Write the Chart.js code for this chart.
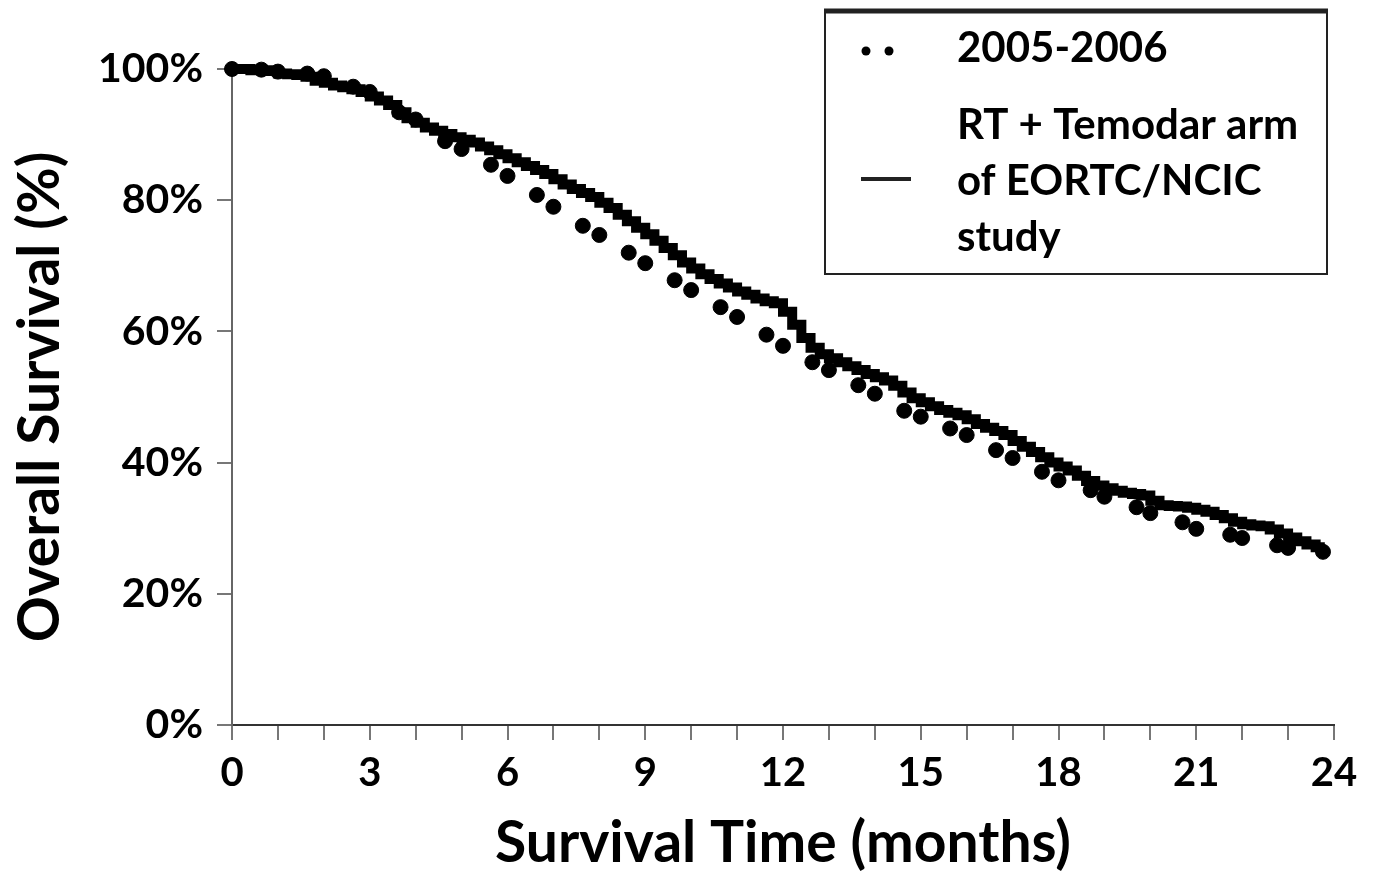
<!DOCTYPE html>
<html>
<head>
<meta charset="utf-8">
<script src="https://cdn.jsdelivr.net/npm/chart.js@4"></script>
<style>
  html, body { margin: 0; padding: 0; background: #fff; }
  #wrap { width: 1374px; height: 878px; }
</style>
</head>
<body>
<div id="wrap"><canvas id="c" width="1374" height="878"></canvas></div>
<script>
// ---- Data ----
const seriesNames = ["2005-2006", ["RT + Temodar arm", "of EORTC/NCIC", "study"]];

// 2005-2006 (dots)
const dotMonths = [0, 0.64, 1.0, 1.64, 2.0, 2.64, 3.0, 3.64, 4.0, 4.64, 5.0, 5.64, 6.0, 6.64, 7.0, 7.64, 8.0, 8.64, 9.0, 9.64, 10.0, 10.64, 11.0, 11.64, 12.0, 12.64, 13.0, 13.64, 14.0, 14.64, 15.0, 15.64, 16.0, 16.64, 17.0, 17.64, 18.0, 18.7, 19.0, 19.7, 20.0, 20.7, 21.0, 21.74, 22.0, 22.76, 23.0, 23.76];
const dotSurvival = [100, 99.9, 99.6, 99.3, 98.9, 97.3, 96.5, 93.4, 92.3, 89.0, 87.8, 85.4, 83.7, 80.8, 79.0, 76.1, 74.7, 72.0, 70.4, 67.8, 66.3, 63.7, 62.2, 59.5, 57.8, 55.3, 54.1, 51.8, 50.5, 47.9, 47.0, 45.2, 44.2, 41.9, 40.7, 38.6, 37.3, 35.8, 34.8, 33.2, 32.3, 30.9, 29.9, 29.0, 28.5, 27.4, 27.0, 26.4];

// RT + Temodar arm of EORTC/NCIC study (step line), read every 0.2 month
const lineMonths = [0.0, 0.2, 0.4, 0.6, 0.8, 1.0, 1.2, 1.4, 1.6, 1.8, 2.0, 2.2, 2.4, 2.6, 2.8, 3.0, 3.2, 3.4, 3.6, 3.8, 4.0, 4.2, 4.4, 4.6, 4.8, 5.0, 5.2, 5.4, 5.6, 5.8, 6.0, 6.2, 6.4, 6.6, 6.8, 7.0, 7.2, 7.4, 7.6, 7.8, 8.0, 8.2, 8.4, 8.6, 8.8, 9.0, 9.2, 9.4, 9.6, 9.8, 10.0, 10.2, 10.4, 10.6, 10.8, 11.0, 11.2, 11.4, 11.6, 11.8, 12.0, 12.2, 12.4, 12.6, 12.8, 13.0, 13.2, 13.4, 13.6, 13.8, 14.0, 14.2, 14.4, 14.6, 14.8, 15.0, 15.2, 15.4, 15.6, 15.8, 16.0, 16.2, 16.4, 16.6, 16.8, 17.0, 17.2, 17.4, 17.6, 17.8, 18.0, 18.2, 18.4, 18.6, 18.8, 19.0, 19.2, 19.4, 19.6, 19.8, 20.0, 20.2, 20.4, 20.6, 20.8, 21.0, 21.2, 21.4, 21.6, 21.8, 22.0, 22.2, 22.4, 22.6, 22.8, 23.0, 23.2, 23.4, 23.6, 23.8];
const lineSurvival = [100, 100, 100, 99.8, 99.8, 99.7, 99.3, 99.2, 99.1, 98.8, 98.2, 97.9, 97.5, 97.2, 96.9, 96.5, 95.8, 95.2, 94.5, 93.4, 92.5, 91.8, 91.1, 90.6, 90.1, 89.6, 89.2, 88.8, 88.2, 87.6, 87.0, 86.4, 85.8, 85.2, 84.6, 84.0, 83.2, 82.4, 81.7, 81.1, 80.5, 79.6, 78.8, 77.8, 76.8, 75.8, 74.8, 73.8, 72.7, 71.6, 70.5, 69.6, 68.7, 68.0, 67.3, 66.7, 66.1, 65.6, 65.0, 64.6, 64.3, 63.0, 61.0, 59.0, 57.5, 56.5, 55.9, 55.3, 54.7, 54.1, 53.5, 53.0, 52.5, 51.7, 50.7, 49.8, 49.2, 48.6, 48.0, 47.6, 47.2, 46.6, 45.9, 45.3, 44.8, 44.2, 43.3, 42.4, 41.6, 40.8, 40.0, 39.4, 38.8, 38.0, 37.2, 36.5, 36.1, 35.7, 35.4, 35.2, 35.0, 34.2, 33.5, 33.4, 33.3, 33.1, 32.8, 32.5, 32.0, 31.5, 31.0, 30.6, 30.4, 30.3, 29.8, 29.2, 28.6, 28.0, 27.5, 27.1];

const xTickLabels = ["0", "3", "6", "9", "12", "15", "18", "21", "24"];
const yTickLabels = ["0%", "20%", "40%", "60%", "80%", "100%"];

const FONT = "Lato, 'Open Sans', sans-serif";

const legendPlugin = {
  id: 'customLegend',
  afterDraw(chart) {
    const ctx = chart.ctx;
    ctx.save();
    // box
    ctx.strokeStyle = '#222';
    ctx.lineWidth = 2;
    ctx.strokeRect(825, 11, 502, 263);
    ctx.lineWidth = 5;
    ctx.beginPath(); ctx.moveTo(824, 11); ctx.lineTo(1328, 11); ctx.stroke();
    // dots symbol
    ctx.fillStyle = '#000';
    [866, 889].forEach(x => { ctx.beginPath(); ctx.arc(x, 51, 4.5, 0, Math.PI * 2); ctx.fill(); });
    // line symbol
    ctx.lineWidth = 4;
    ctx.beginPath(); ctx.moveTo(861, 179); ctx.lineTo(911, 179); ctx.stroke();
    // text
    ctx.font = "bold 42px " + FONT;
    ctx.textBaseline = 'middle';
    ctx.textAlign = 'left';
    ctx.fillText(seriesNames[0], 957, 48);
    const lines = seriesNames[1];
    [125, 181, 237].forEach((y, i) => ctx.fillText(lines[i], 957, y));
    ctx.restore();
  }
};

new Chart(document.getElementById('c'), {
  type: 'scatter',
  data: {
    datasets: [
      {
        label: seriesNames[0],
        data: dotMonths.map((m, i) => ({ x: m, y: dotSurvival[i] })),
        backgroundColor: '#000',
        borderColor: '#000',
        pointRadius: 7.5,
        pointHoverRadius: 7.5,
        showLine: false,
        clip: false
      },
      {
        label: seriesNames[1].join(' '),
        data: lineMonths.map((m, i) => ({ x: m, y: lineSurvival[i] })),
        borderColor: '#000',
        backgroundColor: '#000',
        borderWidth: 10,
        pointRadius: 0,
        showLine: true,
        stepped: 'after',
        clip: false
      }
    ]
  },
  options: {
    responsive: false,
    animation: false,
    events: [],
    layout: { padding: { top: 69, right: 40, left: 0, bottom: 0 } },
    plugins: { legend: { display: false }, tooltip: { enabled: false } },
    scales: {
      x: {
        type: 'linear',
        min: 0, max: 24,
        afterFit(s) { s.height = 153; },
        ticks: {
          stepSize: 1,
          autoSkip: false,
          maxRotation: 0,
          padding: 9,
          color: '#000',
          font: { family: FONT, weight: 'bold', size: 40 },
          callback: (v) => (v % 3 === 0 ? xTickLabels[v / 3] : '')
        },
        grid: { drawOnChartArea: false, drawTicks: true, tickLength: 15, color: '#777', lineWidth: 2 },
        border: { display: true, color: '#333', width: 2 },
        title: {
          display: true,
          text: 'Survival Time (months)',
          color: '#000',
          font: { family: FONT, weight: 'bold', size: 57 },
          padding: { top: 0, bottom: 0 }
        }
      },
      y: {
        type: 'linear',
        min: 0, max: 100,
        afterFit(s) { s.width = 232; },
        ticks: {
          stepSize: 20,
          padding: 14,
          color: '#000',
          font: { family: FONT, weight: 'bold', size: 41 },
          callback: (v) => yTickLabels[v / 20]
        },
        grid: { drawOnChartArea: false, drawTicks: true, tickLength: 15, color: '#777', lineWidth: 2 },
        border: { display: true, color: '#666', width: 2 },
        title: {
          display: true,
          text: 'Overall Survival (%)',
          color: '#000',
          font: { family: FONT, weight: 'bold', size: 57 },
          padding: { top: 6 }
        }
      }
    }
  },
  plugins: [legendPlugin]
});
</script>
</body>
</html>
